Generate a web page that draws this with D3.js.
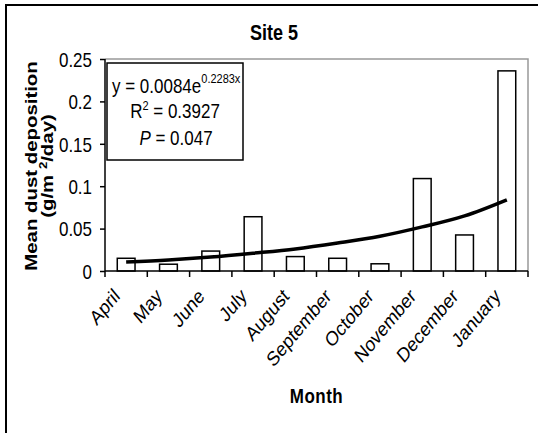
<!DOCTYPE html>
<html>
<head>
<meta charset="utf-8">
<script src="https://cdn.jsdelivr.net/npm/d3@7"></script>
<style>
  body { margin: 0; background: #fff; }
  text { font-family: "Liberation Sans", Arial, sans-serif; fill: #000; }
</style>
</head>
<body>
<div id="chart"></div>
<script>
// data
var months = ["April", "May", "June", "July", "August", "September",
              "October", "November", "December", "January"];
var dust = [0.015, 0.008, 0.0235, 0.064, 0.017, 0.015, 0.0085, 0.109, 0.0425, 0.236];
// exponential trendline, read at each month
var trend = [0.0105, 0.013, 0.0165, 0.021, 0.026, 0.033, 0.041, 0.052, 0.065, 0.084];
var yTicks = [0, 0.05, 0.1, 0.15, 0.2, 0.25];

var W = 538, H = 433;
var plot = {left: 105, right: 528, top: 59, bottom: 271};
var stretch = "scale(1,1.2)"; // the original text is drawn slightly tall

var svg = d3.select("#chart").append("svg")
    .attr("width", W)
    .attr("height", H);

// outer chart frame
svg.append("rect")
    .attr("x", 6).attr("y", 5)
    .attr("width", 545).attr("height", 445)
    .attr("fill", "none")
    .attr("stroke", "#000")
    .attr("stroke-width", 2);

var x = d3.scaleBand()
    .domain(months)
    .range([plot.left, plot.right]);

var y = d3.scaleLinear()
    .domain([0, 0.25])
    .range([plot.bottom, plot.top]);

// plot area border (grey, top and right)
svg.append("path")
    .attr("d", "M" + plot.left + "," + plot.top + "H" + plot.right + "V" + plot.bottom)
    .attr("fill", "none")
    .attr("stroke", "#999")
    .attr("stroke-width", 1.5);

// bars
var barW = x.bandwidth() * 0.42;
svg.append("g")
    .selectAll("rect")
    .data(dust)
    .enter().append("rect")
    .attr("x", function (d, i) { return x(months[i]) + (x.bandwidth() - barW) / 2; })
    .attr("y", function (d) { return y(d); })
    .attr("width", barW)
    .attr("height", function (d) { return y(0) - y(d); })
    .attr("fill", "#fff")
    .attr("stroke", "#000")
    .attr("stroke-width", 1.5);

// trendline
var line = d3.line()
    .x(function (d, i) { return x(months[i]) + x.bandwidth() / 2; })
    .y(function (d) { return y(d); })
    .curve(d3.curveMonotoneX);

svg.append("path")
    .datum(trend)
    .attr("d", line)
    .attr("fill", "none")
    .attr("stroke", "#000")
    .attr("stroke-width", 3.5);

// y axis
var yAxis = svg.append("g")
    .attr("transform", "translate(" + plot.left + ",0)")
    .call(d3.axisLeft(y).tickValues(yTicks).tickSize(5).tickPadding(8)
        .tickFormat(function (d) { return d === 0 ? "0" : String(+d.toFixed(2)); }));
yAxis.select(".domain").attr("stroke-width", 1.5).attr("d", "M0," + plot.bottom + "V" + plot.top);
yAxis.selectAll(".tick line").attr("stroke-width", 1.5);
yAxis.selectAll("text")
    .attr("transform", stretch)
    .attr("dy", "0.36em")
    .style("font-size", "17px")
    .style("font-family", "Liberation Sans, Arial, sans-serif");

// x axis: ticks at category boundaries
var xAxis = svg.append("g")
    .attr("transform", "translate(0," + plot.bottom + ")");
xAxis.append("line")
    .attr("x1", plot.left).attr("x2", plot.right)
    .attr("stroke", "#000").attr("stroke-width", 1.5);
var bounds = months.map(function (m) { return x(m); }).concat([plot.right]);
xAxis.selectAll(".xt")
    .data(bounds)
    .enter().append("line")
    .attr("x1", function (d) { return d; })
    .attr("x2", function (d) { return d; })
    .attr("y1", 0).attr("y2", 6)
    .attr("stroke", "#000").attr("stroke-width", 1.5);
xAxis.selectAll(".xl")
    .data(months)
    .enter().append("text")
    .attr("transform", function (d) {
        return "translate(" + (x(d) + x.bandwidth() / 2 - 14) + ",16) " + stretch + " rotate(-45)";
    })
    .attr("dy", "0.72em")
    .attr("text-anchor", "end")
    .style("font-size", "17px")
    .text(function (d) { return d; });

// title
svg.append("text")
    .attr("transform", "translate(274,40) " + stretch)
    .attr("text-anchor", "middle")
    .style("font-size", "18px")
    .style("font-weight", "bold")
    .text("Site 5");

// axis titles
svg.append("text")
    .attr("transform", "translate(" + (plot.left + plot.right) / 2 + ",403) " + stretch)
    .attr("text-anchor", "middle")
    .style("font-size", "17px")
    .style("font-weight", "bold")
    .style("letter-spacing", "0.5px")
    .text("Month");

var yt = svg.append("text")
    .attr("transform", "translate(0,166) " + stretch + " rotate(-90)")
    .attr("text-anchor", "middle")
    .style("font-size", "17px")
    .style("font-weight", "bold");
yt.append("tspan").attr("x", 0).attr("y", 37).text("Mean dust deposition");
var yt2 = yt.append("tspan").attr("x", 0).attr("y", 53);
yt2.append("tspan").text("(g/m ");
yt2.append("tspan").attr("dy", -6).style("font-size", "11px").text("2");
yt2.append("tspan").attr("dy", 6).text("/day)");

// equation box
svg.append("rect")
    .attr("x", 107).attr("y", 63)
    .attr("width", 136).attr("height", 97)
    .attr("fill", "#fff")
    .attr("stroke", "#000")
    .attr("stroke-width", 1.5);

var eq = svg.append("text")
    .attr("transform", "translate(112,93) " + stretch)
    .style("font-size", "17px");
eq.append("tspan").text("y = 0.0084e");
eq.append("tspan").attr("dy", -8).style("font-size", "11px").text("0.2283x");

var r2 = svg.append("text")
    .attr("transform", "translate(175,118) " + stretch)
    .attr("text-anchor", "middle")
    .style("font-size", "17px");
r2.append("tspan").text("R");
r2.append("tspan").attr("dy", -7).style("font-size", "11px").text("2");
r2.append("tspan").attr("dy", 7).text(" = 0.3927");

var pv = svg.append("text")
    .attr("transform", "translate(176,145) " + stretch)
    .attr("text-anchor", "middle")
    .style("font-size", "17px");
pv.append("tspan").style("font-style", "italic").text("P");
pv.append("tspan").text(" = 0.047");
</script>
</body>
</html>
